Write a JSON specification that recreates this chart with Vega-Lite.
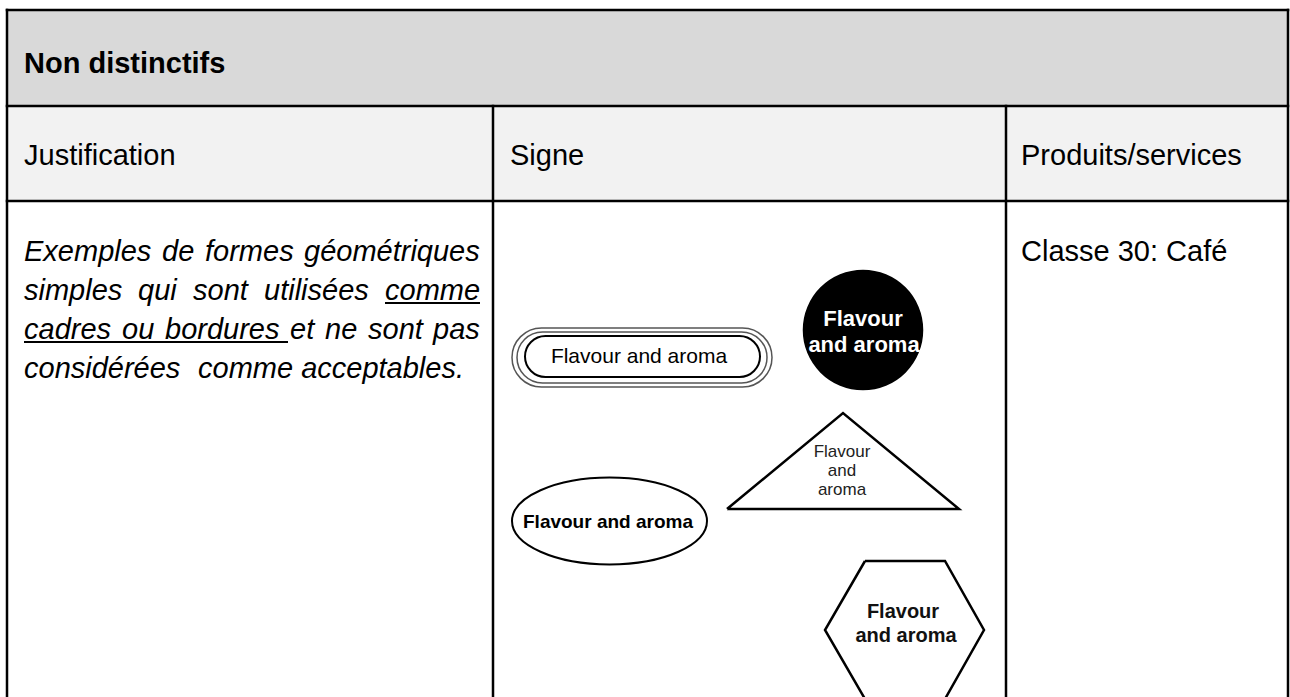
{
  "$schema": "https://vega.github.io/schema/vega-lite/v6.json",
  "width": 1290,
  "height": 697,
  "padding": 0,
  "autosize": {"type": "none"},
  "background": "white",
  "config": {"view": {"stroke": null}},
  "datasets": {
    "cells": [
      {"x": 7, "x2": 1288, "y": 10, "y2": 106, "fill": "#d9d9d9"},
      {"x": 7, "x2": 1288, "y": 106, "y2": 201, "fill": "#f2f2f2"}
    ],
    "grid": [
      {"x": 7, "x2": 1288, "y": 10, "y2": 10},
      {"x": 7, "x2": 1288, "y": 106, "y2": 106},
      {"x": 7, "x2": 1288, "y": 201, "y2": 201},
      {"x": 7, "x2": 7, "y": 10, "y2": 705},
      {"x": 1288, "x2": 1288, "y": 10, "y2": 705},
      {"x": 493, "x2": 493, "y": 106, "y2": 705},
      {"x": 1006, "x2": 1006, "y": 106, "y2": 705}
    ],
    "underlines": [
      {"x": 385, "x2": 480, "y": 303, "y2": 303},
      {"x": 24, "x2": 288, "y": 342, "y2": 342}
    ],
    "stadium": [
      {"id": "outer", "x": 512, "x2": 772, "y": 328, "y2": 387},
      {"id": "middle", "x": 517, "x2": 767, "y": 332, "y2": 383},
      {"id": "inner", "x": 525, "x2": 760, "y": 336, "y2": 377}
    ],
    "symbols": [
      {"id": "circle", "x": 863, "y": 330, "size": 14527},
      {"id": "ellipse", "x": 609.5, "y": 521, "size": 38025}
    ],
    "polygons": [
      {"id": "triangle", "i": 0, "x": 727, "y": 509},
      {"id": "triangle", "i": 1, "x": 843, "y": 413},
      {"id": "triangle", "i": 2, "x": 959, "y": 509},
      {"id": "triangle", "i": 3, "x": 727, "y": 509},
      {"id": "hexagon", "i": 0, "x": 865, "y": 561},
      {"id": "hexagon", "i": 1, "x": 945, "y": 561},
      {"id": "hexagon", "i": 2, "x": 984, "y": 630},
      {"id": "hexagon", "i": 3, "x": 945, "y": 699},
      {"id": "hexagon", "i": 4, "x": 865, "y": 699},
      {"id": "hexagon", "i": 5, "x": 825, "y": 630},
      {"id": "hexagon", "i": 6, "x": 865, "y": 561}
    ],
    "texts": [
      {"t": "Non distinctifs", "x": 24, "y": 73, "size": 29, "color": "black", "style": "bold"},
      {"t": "Justification", "x": 24, "y": 165, "size": 29, "color": "black", "style": "regular"},
      {"t": "Signe", "x": 510, "y": 165, "size": 29, "color": "black", "style": "regular"},
      {"t": "Produits/services", "x": 1021, "y": 165, "size": 29, "color": "black", "style": "regular"},
      {"t": "Classe 30: Café", "x": 1021, "y": 261, "size": 29, "color": "black", "style": "regular"},
      {"t": "Exemples", "x": 24, "y": 261, "size": 29, "color": "black", "style": "italic"},
      {"t": "de", "x": 162, "y": 261, "size": 29, "color": "black", "style": "italic"},
      {"t": "formes", "x": 205, "y": 261, "size": 29, "color": "black", "style": "italic"},
      {"t": "géométriques", "x": 304, "y": 261, "size": 29, "color": "black", "style": "italic"},
      {"t": "simples", "x": 24, "y": 300, "size": 29, "color": "black", "style": "italic"},
      {"t": "qui", "x": 138, "y": 300, "size": 29, "color": "black", "style": "italic"},
      {"t": "sont", "x": 193, "y": 300, "size": 29, "color": "black", "style": "italic"},
      {"t": "utilisées", "x": 264, "y": 300, "size": 29, "color": "black", "style": "italic"},
      {"t": "comme", "x": 385, "y": 300, "size": 29, "color": "black", "style": "italic"},
      {"t": "cadres", "x": 24, "y": 339, "size": 29, "color": "black", "style": "italic"},
      {"t": "ou", "x": 122, "y": 339, "size": 29, "color": "black", "style": "italic"},
      {"t": "bordures", "x": 165, "y": 339, "size": 29, "color": "black", "style": "italic"},
      {"t": "et", "x": 290, "y": 339, "size": 29, "color": "black", "style": "italic"},
      {"t": "ne", "x": 325, "y": 339, "size": 29, "color": "black", "style": "italic"},
      {"t": "sont", "x": 368, "y": 339, "size": 29, "color": "black", "style": "italic"},
      {"t": "pas", "x": 433, "y": 339, "size": 29, "color": "black", "style": "italic"},
      {"t": "considérées", "x": 24, "y": 378, "size": 29, "color": "black", "style": "italic"},
      {"t": "comme acceptables.", "x": 198, "y": 378, "size": 29, "color": "black", "style": "italic"},
      {"t": "Flavour and aroma", "x": 639, "y": 357, "size": 21, "color": "black", "style": "signRegular"},
      {"t": "Flavour", "x": 842, "y": 452, "size": 17, "color": "#222222", "style": "signRegular"},
      {"t": "and", "x": 842, "y": 471, "size": 17, "color": "#222222", "style": "signRegular"},
      {"t": "aroma", "x": 842, "y": 490, "size": 17, "color": "#222222", "style": "signRegular"},
      {"t": "Flavour", "x": 863, "y": 319, "size": 22, "color": "white", "style": "signBold"},
      {"t": "and aroma", "x": 864, "y": 345, "size": 22, "color": "white", "style": "signBold"},
      {"t": "Flavour", "x": 903, "y": 612, "size": 20, "color": "#111111", "style": "signBold"},
      {"t": "and aroma", "x": 906, "y": 636, "size": 20, "color": "#111111", "style": "signBold"},
      {"t": "Flavour and aroma", "x": 608, "y": 522, "size": 19, "color": "black", "style": "signBold"}
    ]
  },
  "layer": [
    {
      "data": {"name": "cells"},
      "mark": {"type": "rect"},
      "encoding": {
        "x": {"field": "x", "type": "quantitative", "scale": {"domain": [0, 1290], "nice": false, "zero": false}, "axis": null},
        "x2": {"field": "x2"},
        "y": {"field": "y", "type": "quantitative", "scale": {"domain": [0, 697], "nice": false, "zero": false, "reverse": true}, "axis": null},
        "y2": {"field": "y2"},
        "fill": {"field": "fill", "type": "nominal", "scale": null}
      }
    },
    {
      "data": {"name": "grid"},
      "mark": {"type": "rule", "color": "black", "strokeWidth": 2.5, "strokeCap": "square"},
      "encoding": {
        "x": {"field": "x", "type": "quantitative", "scale": {"domain": [0, 1290], "nice": false, "zero": false}, "axis": null},
        "x2": {"field": "x2"},
        "y": {"field": "y", "type": "quantitative", "scale": {"domain": [0, 697], "nice": false, "zero": false, "reverse": true}, "axis": null},
        "y2": {"field": "y2"}
      }
    },
    {
      "data": {"name": "underlines"},
      "mark": {"type": "rule", "color": "black", "strokeWidth": 2},
      "encoding": {
        "x": {"field": "x", "type": "quantitative", "scale": {"domain": [0, 1290], "nice": false, "zero": false}, "axis": null},
        "x2": {"field": "x2"},
        "y": {"field": "y", "type": "quantitative", "scale": {"domain": [0, 697], "nice": false, "zero": false, "reverse": true}, "axis": null},
        "y2": {"field": "y2"}
      }
    },
    {
      "data": {"name": "stadium"},
      "transform": [{"filter": "datum.id === 'outer'"}],
      "mark": {"type": "rect", "fill": null, "stroke": "#555555", "strokeWidth": 1.5, "cornerRadius": 29.5},
      "encoding": {
        "x": {"field": "x", "type": "quantitative", "scale": {"domain": [0, 1290], "nice": false, "zero": false}, "axis": null},
        "x2": {"field": "x2"},
        "y": {"field": "y", "type": "quantitative", "scale": {"domain": [0, 697], "nice": false, "zero": false, "reverse": true}, "axis": null},
        "y2": {"field": "y2"}
      }
    },
    {
      "data": {"name": "stadium"},
      "transform": [{"filter": "datum.id === 'middle'"}],
      "mark": {"type": "rect", "fill": null, "stroke": "#555555", "strokeWidth": 1.5, "cornerRadius": 25.5},
      "encoding": {
        "x": {"field": "x", "type": "quantitative", "scale": {"domain": [0, 1290], "nice": false, "zero": false}, "axis": null},
        "x2": {"field": "x2"},
        "y": {"field": "y", "type": "quantitative", "scale": {"domain": [0, 697], "nice": false, "zero": false, "reverse": true}, "axis": null},
        "y2": {"field": "y2"}
      }
    },
    {
      "data": {"name": "stadium"},
      "transform": [{"filter": "datum.id === 'inner'"}],
      "mark": {"type": "rect", "fill": null, "stroke": "black", "strokeWidth": 2, "cornerRadius": 20.5},
      "encoding": {
        "x": {"field": "x", "type": "quantitative", "scale": {"domain": [0, 1290], "nice": false, "zero": false}, "axis": null},
        "x2": {"field": "x2"},
        "y": {"field": "y", "type": "quantitative", "scale": {"domain": [0, 697], "nice": false, "zero": false, "reverse": true}, "axis": null},
        "y2": {"field": "y2"}
      }
    },
    {
      "data": {"name": "symbols"},
      "transform": [{"filter": "datum.id === 'circle'"}],
      "mark": {"type": "point", "shape": "circle", "filled": true, "color": "black", "opacity": 1},
      "encoding": {
        "x": {"field": "x", "type": "quantitative", "scale": {"domain": [0, 1290], "nice": false, "zero": false}, "axis": null},
        "y": {"field": "y", "type": "quantitative", "scale": {"domain": [0, 697], "nice": false, "zero": false, "reverse": true}, "axis": null},
        "size": {"field": "size", "type": "quantitative", "scale": null}
      }
    },
    {
      "data": {"name": "symbols"},
      "transform": [{"filter": "datum.id === 'ellipse'"}],
      "mark": {"type": "point", "shape": "M -1 0 A 1 0.446 0 1 0 1 0 A 1 0.446 0 1 0 -1 0 Z", "filled": false, "color": "black", "opacity": 1, "strokeWidth": 2},
      "encoding": {
        "x": {"field": "x", "type": "quantitative", "scale": {"domain": [0, 1290], "nice": false, "zero": false}, "axis": null},
        "y": {"field": "y", "type": "quantitative", "scale": {"domain": [0, 697], "nice": false, "zero": false, "reverse": true}, "axis": null},
        "size": {"field": "size", "type": "quantitative", "scale": null}
      }
    },
    {
      "data": {"name": "polygons"},
      "mark": {"type": "line", "color": "black", "strokeWidth": 2.5, "strokeJoin": "miter"},
      "encoding": {
        "x": {"field": "x", "type": "quantitative", "scale": {"domain": [0, 1290], "nice": false, "zero": false}, "axis": null},
        "y": {"field": "y", "type": "quantitative", "scale": {"domain": [0, 697], "nice": false, "zero": false, "reverse": true}, "axis": null},
        "detail": {"field": "id", "type": "nominal"},
        "order": {"field": "i", "type": "quantitative"}
      }
    },
    {
      "data": {"name": "texts"},
      "transform": [{"filter": "datum.style === 'regular'"}],
      "mark": {"type": "text", "font": "Liberation Sans", "align": "left", "baseline": "alphabetic"},
      "encoding": {
        "x": {"field": "x", "type": "quantitative", "scale": {"domain": [0, 1290], "nice": false, "zero": false}, "axis": null},
        "y": {"field": "y", "type": "quantitative", "scale": {"domain": [0, 697], "nice": false, "zero": false, "reverse": true}, "axis": null},
        "text": {"field": "t"},
        "size": {"field": "size", "type": "quantitative", "scale": null},
        "color": {"field": "color", "type": "nominal", "scale": null}
      }
    },
    {
      "data": {"name": "texts"},
      "transform": [{"filter": "datum.style === 'bold'"}],
      "mark": {"type": "text", "font": "Liberation Sans", "fontWeight": "bold", "align": "left", "baseline": "alphabetic"},
      "encoding": {
        "x": {"field": "x", "type": "quantitative", "scale": {"domain": [0, 1290], "nice": false, "zero": false}, "axis": null},
        "y": {"field": "y", "type": "quantitative", "scale": {"domain": [0, 697], "nice": false, "zero": false, "reverse": true}, "axis": null},
        "text": {"field": "t"},
        "size": {"field": "size", "type": "quantitative", "scale": null},
        "color": {"field": "color", "type": "nominal", "scale": null}
      }
    },
    {
      "data": {"name": "texts"},
      "transform": [{"filter": "datum.style === 'italic'"}],
      "mark": {"type": "text", "font": "Liberation Sans", "fontStyle": "italic", "align": "left", "baseline": "alphabetic"},
      "encoding": {
        "x": {"field": "x", "type": "quantitative", "scale": {"domain": [0, 1290], "nice": false, "zero": false}, "axis": null},
        "y": {"field": "y", "type": "quantitative", "scale": {"domain": [0, 697], "nice": false, "zero": false, "reverse": true}, "axis": null},
        "text": {"field": "t"},
        "size": {"field": "size", "type": "quantitative", "scale": null},
        "color": {"field": "color", "type": "nominal", "scale": null}
      }
    },
    {
      "data": {"name": "texts"},
      "transform": [{"filter": "datum.style === 'signRegular'"}],
      "mark": {"type": "text", "font": "Liberation Sans", "align": "center", "baseline": "middle"},
      "encoding": {
        "x": {"field": "x", "type": "quantitative", "scale": {"domain": [0, 1290], "nice": false, "zero": false}, "axis": null},
        "y": {"field": "y", "type": "quantitative", "scale": {"domain": [0, 697], "nice": false, "zero": false, "reverse": true}, "axis": null},
        "text": {"field": "t"},
        "size": {"field": "size", "type": "quantitative", "scale": null},
        "color": {"field": "color", "type": "nominal", "scale": null}
      }
    },
    {
      "data": {"name": "texts"},
      "transform": [{"filter": "datum.style === 'signBold'"}],
      "mark": {"type": "text", "font": "Liberation Sans", "fontWeight": "bold", "align": "center", "baseline": "middle"},
      "encoding": {
        "x": {"field": "x", "type": "quantitative", "scale": {"domain": [0, 1290], "nice": false, "zero": false}, "axis": null},
        "y": {"field": "y", "type": "quantitative", "scale": {"domain": [0, 697], "nice": false, "zero": false, "reverse": true}, "axis": null},
        "text": {"field": "t"},
        "size": {"field": "size", "type": "quantitative", "scale": null},
        "color": {"field": "color", "type": "nominal", "scale": null}
      }
    }
  ]
}
